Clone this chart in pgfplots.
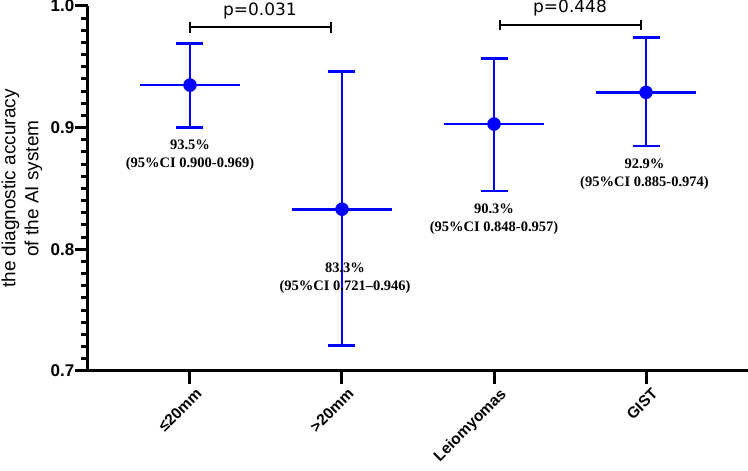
\documentclass[border=0pt]{standalone}
\usepackage{fontspec}
\setmainfont{Liberation Sans}
\newfontfamily\pfont{DejaVu Sans}
\newfontfamily\tfont{Liberation Serif}
\usepackage{pgfplots}
\usepackage{pgfplotstable}
\pgfplotsset{compat=1.18}

% category, accuracy, 95% CI
\pgfplotstableread{
x y lo hi
0 0.935 0.900 0.969
1 0.833 0.721 0.946
2 0.903 0.848 0.957
3 0.929 0.885 0.974
}\acc

\begin{document}
\begin{tikzpicture}
\begin{axis}[
  scale only axis, width=660pt, height=365pt,
  xmin=-0.671, xmax=3.671, ymin=0.7, ymax=1.0,
  axis lines=left, axis line style={-, line width=3pt},
  clip=false,
  xtick={0,1,2,3},
  xticklabels={≤20mm, >20mm, Leiomyomas, GIST},
  xticklabel style={rotate=45, anchor=north east, inner sep=1pt, yshift=-5pt, xshift=2pt,
    font=\fontsize{15.5}{17}\selectfont\bfseries},
  ytick={0.7,0.8,0.9,1.0}, yticklabels={0.7,0.8,0.9,1.0},
  yticklabel style={inner sep=1pt, font=\fontsize{17}{19}\selectfont\bfseries},
  minor y tick num=9,
  tick align=outside, major tick length=12.5pt, minor tick length=6.5pt,
  every tick/.append style={line width=3pt, black},
  ylabel={the diagnostic accuracy\\of the AI system},
  ylabel style={align=center, font=\fontsize{19}{23}\selectfont, at={(axis description cs:-0.1,0.5)}, anchor=center},
]
% horizontal mean lines
\addplot[blue, only marks, mark=none,
  error bars/.cd, x dir=both, x explicit, error mark=none,
  error bar style={line width=2.7pt, blue}]
  table[x=x, y=y, x error expr=0.33] {\acc};
% CI whiskers and points
\addplot[blue, only marks, mark=*, mark size=6.5pt,
  error bars/.cd, y dir=both, y explicit,
  error bar style={line width=2.7pt, blue},
  error mark options={rotate=90, blue, line width=2.7pt, mark size=13.5pt}]
  table[x=x, y=y, y error plus expr=\thisrow{hi}-\thisrow{y}, y error minus expr=\thisrow{y}-\thisrow{lo}] {\acc};

% p-value brackets
\addplot[black, line width=2pt, mark=none,
  error bars/.cd, y dir=both, y fixed=0.0045, error mark=none,
  error bar style={line width=2pt}]
  coordinates {(0,0.9827) (0.93,0.9827)};
\addplot[black, line width=2pt, mark=none,
  error bars/.cd, y dir=both, y fixed=0.0045, error mark=none,
  error bar style={line width=2pt}]
  coordinates {(2.04,0.9844) (2.97,0.9844)};
\node[font=\pfont\fontsize{17}{20}\selectfont] at (axis cs:0.46,0.996) {p=0.031};
\node[font=\pfont\fontsize{17}{20}\selectfont] at (axis cs:2.5,0.998) {p=0.448};

% value labels
\tikzset{vl/.style={font=\tfont\bfseries\fontsize{14.5}{18}\selectfont, align=center}}
\node[vl] at (axis cs:0,0.877) {93.5\%\\(95\%CI 0.900-0.969)};
\node[vl] at (axis cs:1.02,0.776) {83.3\%\\(95\%CI 0.721–0.946)};
\node[vl] at (axis cs:2.0,0.8246) {90.3\%\\(95\%CI 0.848-0.957)};
\node[vl] at (axis cs:2.99,0.8615) {92.9\%\\(95\%CI 0.885-0.974)};
\end{axis}
\pgfresetboundingbox
\path[use as bounding box] (-88pt,-100pt) rectangle (660pt,371pt);
\end{tikzpicture}
\end{document}
